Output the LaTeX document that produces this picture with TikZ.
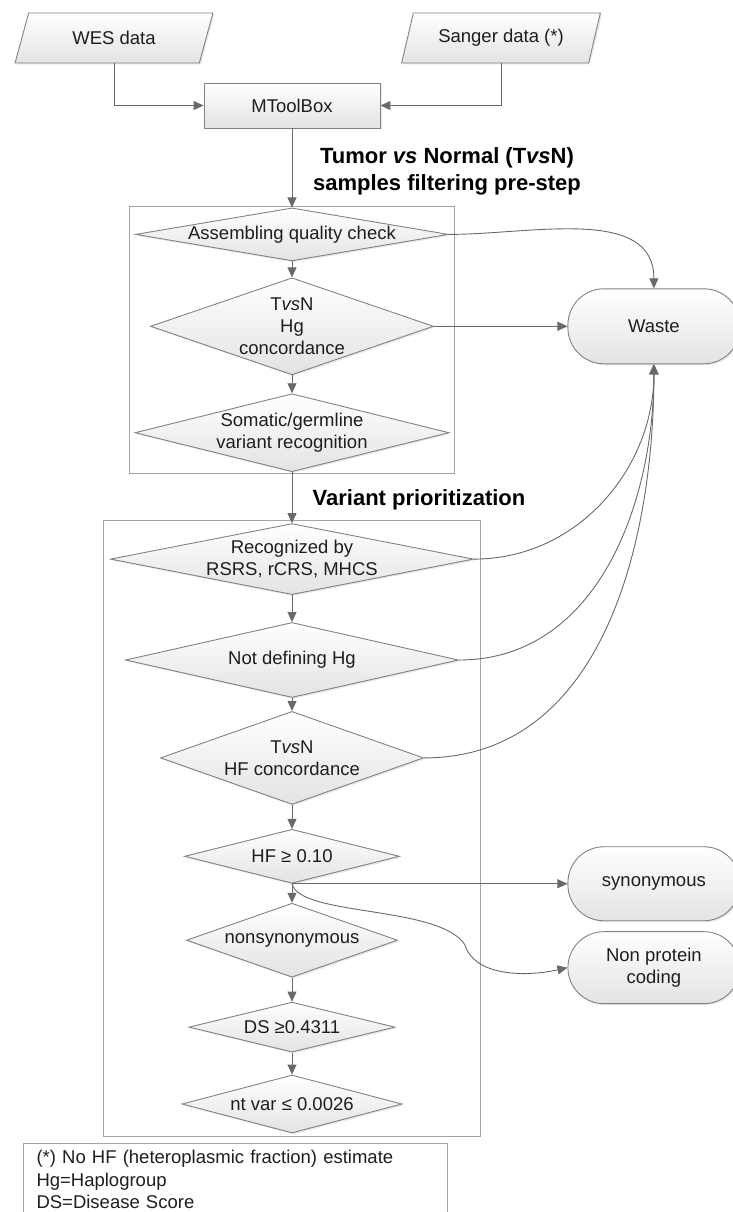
\documentclass[tikz,border=0pt]{standalone}
\usepackage{fontspec}
\setmainfont{Liberation Sans}
\usetikzlibrary{arrows.meta, positioning, shapes.geometric, fit, backgrounds, shadows}
\definecolor{flowline}{RGB}{105, 105, 105}
\definecolor{flowedge}{RGB}{130, 130, 130}
\definecolor{framegray}{RGB}{165, 165, 165}
\definecolor{flowtext}{RGB}{30, 30, 30}
\newcommand{\tvn}{T\textit{vs}N}

\begin{document}
\begin{tikzpicture}[
  x=1pt, y=-1pt,
  every node/.style = {font=\fontsize{18.5}{22.3}\selectfont, text=flowtext},
  basic/.style    = {draw=flowedge, line width=0.9pt, top color=white, bottom color=black!11,
                     drop shadow={shadow xshift=1.5pt, shadow yshift=-1.5pt, opacity=0.18}},
  inputbox/.style = {basic, trapezium, trapezium left angle=64, trapezium right angle=116,
                     trapezium stretches=true, minimum width=199pt, minimum height=50pt,
                     inner sep=0pt},
  procbox/.style  = {basic, rectangle, minimum width=176pt, minimum height=45pt},
  decision/.style = {basic, diamond, inner sep=-2pt, align=center},
  endbox/.style   = {basic, rectangle, rounded corners=36pt, minimum width=172pt, align=center},
  group/.style    = {draw=framegray, line width=1pt},
  arrow/.style    = {-{Triangle[length=10pt, width=9pt]}, draw=flowline, line width=0.9pt},
  steptitle/.style = {font=\fontsize{22}{27}\selectfont\bfseries, text=black, align=center},
  legend/.style   = {draw=framegray, line width=1pt, align=left, anchor=north west,
                     text width=398pt, inner xsep=13pt, inner ysep=7pt}
]
\useasboundingbox (0,0) rectangle (733,1212);

% Inputs
\node[inputbox] (wes)    at (114,38)  {WES data};
\node[inputbox] (sanger) at (501,38)  {Sanger data (*)};
\node[procbox]  (mtool)  at (292,105.5) {MToolBox};

% Pre-step checks
\node[decision, below=79pt of mtool, minimum width=313pt, minimum height=53pt, aspect=5.9]
  (assemb) {Assembling quality check};
\node[decision, below=16pt of assemb, minimum width=283pt, minimum height=97pt, aspect=2.92]
  (hgconc) {\tvn\\Hg\\concordance};
\node[decision, below=18pt of hgconc, minimum width=314pt, minimum height=78pt, aspect=4.03]
  (somatic) {Somatic/germline\\variant recognition};

% Prioritization
\node[decision, below=51pt of somatic, minimum width=363pt, minimum height=71pt, aspect=5.11]
  (recog) {Recognized by\\RSRS, rCRS, MHCS};
\node[decision, below=27pt of recog, minimum width=333pt, minimum height=75pt, aspect=4.44]
  (notdef) {Not defining Hg};
\node[decision, below=13pt of notdef, minimum width=263pt, minimum height=93pt, aspect=2.83]
  (hfconc) {\tvn\\HF concordance};
\node[decision, below=24pt of hfconc, minimum width=215pt, minimum height=54pt, aspect=3.98]
  (hf010) {HF ≥ 0.10};
\node[decision, below=19pt of hf010, minimum width=211pt, minimum height=74pt, aspect=2.85]
  (nonsyn) {nonsynonymous};
\node[decision, below=24pt of nonsyn, minimum width=206pt, minimum height=50pt, aspect=4.12]
  (ds) {DS ≥0.4311};
\node[decision, below=22pt of ds, minimum width=220pt, minimum height=58pt, aspect=3.8]
  (ntvar) {nt var ≤ 0.0026};

% Outcomes
\node[endbox, right=133.5pt of hgconc, minimum height=75pt] (waste) {Waste};
\node[endbox, minimum height=74pt] (synon) at (waste |- hf010.south) {synonymous};
\node[endbox, below=10pt of synon, minimum height=72pt] (nonprot) {Non protein\\coding};

% Step titles
\node[steptitle] (pretitle) at (447,171)
  {Tumor \textit{vs} Normal (T\textit{vs}N)\\samples filtering pre-step};
\node[steptitle] (priotitle) at (419,500) {Variant prioritization};

% Group frames
\begin{scope}[on background layer]
  \node[group, fit=(assemb)(hgconc)(somatic), inner xsep=5.5pt, inner ysep=1pt] (prestep) {};
  \node[group, fit=(recog)(ntvar), inner xsep=7pt, inner ysep=3pt] (priority) {};
\end{scope}

% Legend
\node[legend] (notes) at (23,1143)
  {(*) No HF (heteroplasmic fraction) estimate\\Hg=Haplogroup\\DS=Disease Score};

% Arrows
\draw[arrow] (wes.center |- wes.south) |- (mtool.west);
\draw[arrow] (sanger.center |- sanger.south) |- (mtool.east);
\draw[arrow] (mtool.south) -- (assemb.north);
\draw[arrow] (assemb.south) -- (hgconc.north);
\draw[arrow] (hgconc.south) -- (somatic.north);
\draw[arrow] (somatic.south) -- (recog.north);
\draw[arrow] (recog.south) -- (notdef.north);
\draw[arrow] (notdef.south) -- (hfconc.north);
\draw[arrow] (hfconc.south) -- (hf010.north);
\draw[arrow] (hf010.south) -- (nonsyn.north);
\draw[arrow] (nonsyn.south) -- (ds.north);
\draw[arrow] (ds.south) -- (ntvar.north);

% To waste
\draw[arrow] (assemb.east) to[out=0, in=90] (waste.north);
\draw[arrow] (hgconc.east) -- (waste.west);
\draw[arrow] (recog.east) to[out=0, in=-90] (waste.south);
\draw[arrow] (notdef.east) to[out=0, in=-90] (waste.south);
\draw[arrow] (hfconc.east) to[out=0, in=-90] (waste.south);

% Side outcomes
\draw[arrow] (hf010.south) -- (hf010.south -| synon.west);
\coordinate (nbend) at (465,945);
\draw[arrow] (hf010.south) .. controls +(8,33) and +(-25,-40) .. (nbend)
  .. controls +(9,30) and +(-45,10) .. (nonprot.west);

\end{tikzpicture}
\end{document}
